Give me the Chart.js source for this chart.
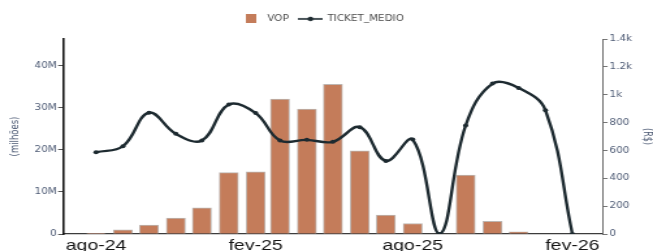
<!DOCTYPE html>
<html>
<head>
<meta charset="utf-8">
<script src="https://cdn.jsdelivr.net/npm/chart.js@4/dist/chart.umd.min.js"></script>
<style>
    html, body { margin: 0; padding: 0; background: #fff; overflow: hidden; }
    /* the reference is stretched sideways, so the chart is drawn narrower and scaled */
    #wrap { position: absolute; left: 0; top: 0; width: 502px; height: 251px; transform: scaleX(1.3008); transform-origin: 0 0; }
</style>
</head>
<body>
<div id="wrap"><canvas id="myChart"></canvas></div>
<script>
const months = ['2024-08', '2024-09', '2024-10', '2024-11', '2024-12', '2025-01', '2025-02', '2025-03', '2025-04', '2025-05',
    '2025-06', '2025-07', '2025-08', '2025-09', '2025-10', '2025-11', '2025-12', '2026-01', '2026-02'];
const vop = [0.15, 1.0, 2.1, 3.8, 6.2, 14.6, 14.8, 32.1, 29.7, 35.6, 19.8, 4.5, 2.5, 0, 14.0, 3.0, 0.5, 0, 0];
const ticket_medio = [587, 630, 871, 719, 671, 929, 868, 671, 676, 662, 767, 525, 678, 0, 779, 1080, 1049, 888, 0];
const tick_months = ['2024-08', '2025-02', '2025-08', '2026-02'];
const tick_labels = ['ago-24', 'fev-25', 'ago-25', 'fev-26'];

const bar_color = '#c47c5a';
const line_color = '#1d2a30';
const small_text = '#4d5a74';

document.addEventListener('DOMContentLoaded', () => {
    render_chart();
});

// days since the first month, so bars sit on a date-like axis
function day_index(month) {
    const [y, m] = month.split('-').map(Number);
    const [y0, m0] = months[0].split('-').map(Number);
    return (Date.UTC(y, m - 1, 1) - Date.UTC(y0, m0 - 1, 1)) / 86400000;
}

function legend_icons() {
    let box = document.createElement('canvas');
    box.width = 8;
    box.height = 9;
    let bctx = box.getContext('2d');
    bctx.fillStyle = bar_color;
    bctx.fillRect(0, 0, 8, 9);

    let line = document.createElement('canvas');
    line.width = 19;
    line.height = 6;
    let lctx = line.getContext('2d');
    lctx.strokeStyle = line_color;
    lctx.lineWidth = 1.6;
    lctx.beginPath();
    lctx.moveTo(0, 3);
    lctx.lineTo(19, 3);
    lctx.stroke();
    lctx.fillStyle = line_color;
    lctx.beginPath();
    lctx.arc(9.5, 3, 2.2, 0, Math.PI * 2);
    lctx.fill();
    return [box, line];
}

// keep the legend box tall enough so the plot starts where the reference does,
// and nudge it a little to the left like the original
const legend_tweak = {
    id: 'legend_tweak',
    beforeUpdate(chart) {
        const legend = chart.legend;
        if (legend && !legend._patched) {
            const fit = legend.fit;
            legend.fit = function () {
                fit.call(this);
                this.height = 32.6;
            };
            const draw = legend.draw;
            legend.draw = function () {
                this.ctx.save();
                this.ctx.translate(-4, 0.8);
                draw.apply(this, arguments);
                this.ctx.restore();
            };
            legend._patched = true;
        }
    }
};

function render_chart() {
    const icons = legend_icons();
    const small_font = { family: 'DejaVu Sans', size: 8 };

    let ctx = document.getElementById('myChart');
    let myChart = new Chart(ctx, {
        type: 'bar',
        plugins: [legend_tweak],
        data: {
            datasets: [{
                type: 'bar',
                label: 'VOP',
                data: months.map((m, i) => ({ x: day_index(m), y: vop[i] })),
                backgroundColor: bar_color,
                borderColor: '#bdb6b2',
                borderWidth: 1,
                barThickness: 14.6,
                yAxisID: 'y',
                order: 2
            }, {
                type: 'line',
                label: 'TICKET_MEDIO',
                data: months.map((m, i) => ({ x: day_index(m), y: ticket_medio[i] })),
                borderColor: line_color,
                backgroundColor: line_color,
                borderWidth: 2.4,
                pointRadius: 2,
                pointBorderWidth: 0,
                tension: 0.4,
                yAxisID: 'y1',
                order: 1
            }]
        },
        options: {
            responsive: true,
            maintainAspectRatio: false,
            devicePixelRatio: 1,
            animation: false,
            layout: { padding: { top: 6.4, left: 0, right: 0, bottom: 0 } },
            plugins: {
                tooltip: { enabled: false },
                legend: {
                    position: 'top',
                    labels: {
                        usePointStyle: true,
                        pointStyleWidth: 18,
                        padding: 7.7,
                        color: '#4a4a4a',
                        font: small_font,
                        generateLabels: chart => chart.data.datasets.map((ds, i) => ({
                            text: ds.label,
                            pointStyle: icons[i],
                            datasetIndex: i,
                            hidden: false,
                            lineWidth: 0,
                            fillStyle: 'transparent',
                            strokeStyle: 'transparent',
                            fontColor: '#4a4a4a'
                        }))
                    }
                }
            },
            scales: {
                x: {
                    type: 'linear',
                    offset: false,
                    min: -36.9,
                    max: 583.6,
                    grid: { display: false },
                    border: { display: true, color: '#3c3c3c', width: 1.3 },
                    ticks: {
                        autoSkip: false,
                        maxRotation: 0,
                        padding: -5,
                        color: '#151515',
                        font: { family: 'Liberation Sans', size: 15 },
                        callback: value => tick_labels[tick_months.findIndex(m => day_index(m) === value)]
                    },
                    afterBuildTicks: scale => {
                        scale.ticks = tick_months.map(m => ({ value: day_index(m) }));
                    },
                    afterFit: scale => { scale.height = 17; }
                },
                y: {
                    position: 'left',
                    min: 0,
                    max: 46.4,
                    grid: { drawOnChartArea: false, drawTicks: true, tickLength: 4.5, color: '#555' },
                    border: { display: true, color: '#111', width: 1.6 },
                    ticks: {
                        stepSize: 10,
                        padding: 1,
                        color: small_text,
                        font: small_font,
                        callback: value => value === 0 ? '0' : value + 'M'
                    },
                    afterBuildTicks: scale => {
                        scale.ticks = scale.ticks.filter(t => t.value % 10 === 0);
                    },
                    title: {
                        display: true,
                        text: '(milhões)',
                        color: small_text,
                        font: { family: 'DejaVu Sans', size: 8.5 },
                        padding: { top: 6.4, bottom: 0 }
                    },
                    afterFit: scale => { scale.width = 49.2; }
                },
                y1: {
                    position: 'right',
                    min: 0,
                    max: 1400,
                    grid: { drawOnChartArea: false, drawTicks: true, tickLength: 4, color: '#777' },
                    border: { display: true, color: '#666', width: 1 },
                    ticks: {
                        stepSize: 200,
                        padding: 1.5,
                        color: small_text,
                        font: small_font,
                        callback: value => value >= 1000 ? (value / 1000) + 'k' : value
                    },
                    title: {
                        display: true,
                        text: '(R$)',
                        color: small_text,
                        font: { family: 'DejaVu Sans', size: 8 },
                        padding: { top: 0, bottom: 0 }
                    },
                    afterFit: scale => { scale.width = 38.9; }
                }
            }
        }
    });
}
</script>
</body>
</html>
